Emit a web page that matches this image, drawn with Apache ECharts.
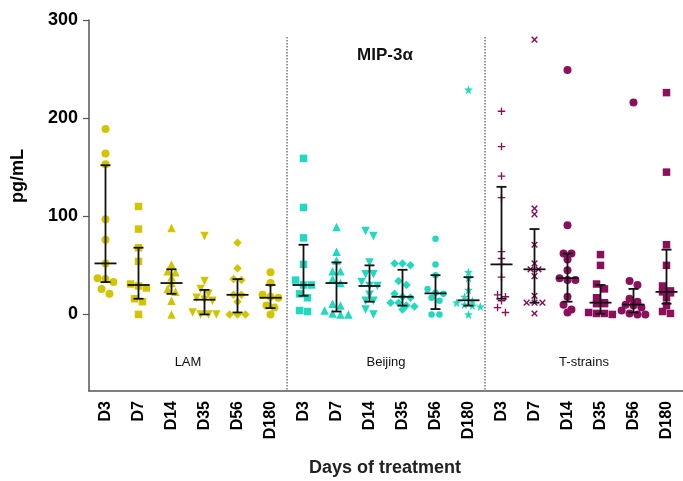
<!DOCTYPE html>
<html>
<head>
<meta charset="utf-8">
<script src="https://cdn.jsdelivr.net/npm/echarts@6/dist/echarts.min.js"></script>
<style>
  html, body { margin: 0; padding: 0; background: #fff; }
  #chart { width: 683px; height: 481px; }
</style>
</head>
<body>
<div id="chart"></div>
<script>
// Days of treatment and strain groups
const days = ['D3', 'D7', 'D14', 'D35', 'D56', 'D180'];
const groups = ['LAM', 'Beijing', 'T-strains'];
const yTicks = [0, 100, 200, 300];

// MIP-3α concentrations (pg/mL), one list per day
const lamValues = [
  [189, 164, 153, 97, 76, 52, 37, 36, 33, 26, 21],
  [110, 87, 68, 54, 31, 29, 27, 16, 13, 0],
  [88, 51, 44, 43, 38, 32, 26, 23, 14, 0],
  [80, 34, 26, 21, 17, 15, 14, 2, 0, 0, 0],
  [73, 47, 36, 35, 20, 20, 13, 0, 0, 0],
  [43, 32, 20, 18, 17, 9, 7, 0]
];
const beijingValues = [
  [159, 109, 78, 51, 35, 30, 30, 21, 17, 4, 3],
  [89, 64, 55, 44, 44, 36, 32, 11, 9, 4, 1, 0, 0],
  [85, 80, 53, 41, 41, 33, 29, 29, 20, 14, 14, 5, 0],
  [52, 52, 50, 34, 30, 21, 18, 17, 12, 12, 9, 8, 5],
  [77, 51, 40, 26, 22, 21, 17, 14, 0, 0],
  [229, 43, 37, 25, 18, 14, 12, 10, 9, 8, 0]
];
const tStrainValues = [
  [207, 171, 141, 119, 64, 57, 51, 38, 20, 18, 14, 7, 2],
  [280, 108, 102, 71, 52, 46, 46, 39, 19, 12, 12, 12, 1],
  [249, 91, 62, 62, 56, 45, 37, 35, 35, 18, 10, 5, 2],
  [61, 50, 31, 26, 17, 12, 11, 11, 2, 1, 1, 0],
  [216, 34, 30, 16, 13, 10, 9, 7, 4, 1, 0, 0],
  [226, 145, 71, 50, 29, 24, 23, 22, 17, 9, 3, 1]
];

// Median with interquartile range per day
const lamMedian = [52, 30, 32, 15, 20, 17];
const lamQ1 = [33, 16, 21, 0, 2, 6.5];
const lamQ3 = [152, 68, 46, 25, 36, 30];
const beijingMedian = [30, 32, 29, 18, 21.5, 14.4];
const beijingQ1 = [19, 3, 13, 9, 5.5, 9];
const beijingQ3 = [71, 53, 50, 45.5, 40, 38];
const tStrainMedian = [51, 46, 37, 12, 10, 23];
const tStrainQ1 = [16, 12, 13, 0.7, 2, 11];
const tStrainQ3 = [130, 87, 62, 30, 26, 66];

// ---- styling ----
const groupColors = ['#d2c500', '#1fd9c0', '#8c0f5b'];
const PLUS = 'path://M-0.9,-5 L0.9,-5 L0.9,-0.9 L5,-0.9 L5,0.9 L0.9,0.9 L0.9,5 L-0.9,5 L-0.9,0.9 L-5,0.9 L-5,-0.9 L-0.9,-0.9 Z';
const STAR = 'path://M0,-10 L2.35,-3.24 L9.51,-3.09 L3.8,1.24 L5.88,8.09 L0,4 L-5.88,8.09 L-3.8,1.24 L-9.51,-3.09 L-2.35,-3.24 Z';
const symbolSets = [
  [['circle', 8, 0], ['rect', 7.5, 0], ['triangle', 8.5, 0], ['triangle', 8.5, 180], ['diamond', 8.5, 0], ['circle', 8, 0]],
  [['rect', 7.5, 0], ['triangle', 8.5, 0], ['triangle', 8.5, 180], ['diamond', 8.5, 0], ['circle', 6.5, 0], [STAR, 9, 0]],
  [[PLUS, 7.5, 0], [PLUS, 8, 45], ['circle', 8, 0], ['rect', 7.5, 0], ['circle', 8, 0], ['rect', 7.5, 0]]
];

const allValues = [lamValues, beijingValues, tStrainValues];
const medians = [lamMedian, beijingMedian, tStrainMedian];
const q1s = [lamQ1, beijingQ1, tStrainQ1];
const q3s = [lamQ3, beijingQ3, tStrainQ3];

// categories: one slot per group/day
const categories = [];
groups.forEach(g => days.forEach(d => categories.push(g + '|' + d)));

// Spread points of similar value side by side (dot-plot layout)
function swarm(values, center) {
  const sorted = values.slice().sort((a, b) => b - a);
  const rows = [];
  sorted.forEach(v => {
    const row = rows[rows.length - 1];
    if (row && row[0] - v <= 5) row.push(v); else rows.push([v]);
  });
  const step = 0.24;
  const pts = [];
  rows.forEach(row => {
    const n = row.length;
    row.forEach((v, i) => pts.push([center + (i - (n - 1) / 2) * step, v]));
  });
  return pts;
}

const series = [];
const barData = [];
allValues.forEach((groupVals, gi) => {
  groupVals.forEach((vals, di) => {
    const idx = gi * days.length + di;
    const sym = symbolSets[gi][di];
    series.push({
      type: 'scatter',
      xAxisIndex: 1,
      data: swarm(vals, idx),
      symbol: sym[0],
      symbolSize: sym[1],
      symbolRotate: sym[2],
      itemStyle: { color: groupColors[gi], opacity: 1 },
      z: 2,
      silent: true
    });
    barData.push([idx, medians[gi][di], q1s[gi][di], q3s[gi][di]]);
  });
});

// Median and interquartile bars
series.push({
  type: 'custom',
  xAxisIndex: 1,
  z: 5,
  silent: true,
  data: barData,
  renderItem: function (params, api) {
    const x = api.value(0);
    const pm = api.coord([x, api.value(1)]);
    const pl = api.coord([x, api.value(2)]);
    const ph = api.coord([x, api.value(3)]);
    const st = { stroke: '#111', lineWidth: 1.8, fill: null };
    return {
      type: 'group',
      children: [
        { type: 'line', shape: { x1: pl[0], y1: pl[1], x2: ph[0], y2: ph[1] }, style: st },
        { type: 'line', shape: { x1: ph[0] - 5, y1: ph[1], x2: ph[0] + 5, y2: ph[1] }, style: st },
        { type: 'line', shape: { x1: pl[0] - 5, y1: pl[1], x2: pl[0] + 5, y2: pl[1] }, style: st },
        { type: 'line', shape: { x1: pm[0] - 11, y1: pm[1], x2: pm[0] + 11, y2: pm[1] }, style: st }
      ]
    };
  }
});

// Group dividers and group names
series.push({
  type: 'custom',
  xAxisIndex: 1,
  z: 1,
  silent: true,
  data: groups.map((g, i) => [i]),
  renderItem: function (params, api) {
    const gi = api.value(0);
    const cs = params.coordSys;
    const start = gi * days.length - 0.5;
    const center = api.coord([gi * days.length + (days.length - 1) / 2, 0])[0];
    const children = [{
      type: 'text',
      style: {
        text: groups[gi], x: center, y: cs.y + cs.height - 29,
        align: 'center', verticalAlign: 'middle',
        font: '13px "Liberation Sans", Arial, sans-serif', fill: '#111'
      }
    }];
    if (gi > 0) {
      const xs = api.coord([start, 0])[0];
      children.push({
        type: 'line',
        shape: { x1: xs, y1: cs.y + 17, x2: xs, y2: cs.y + cs.height },
        style: { stroke: '#333', lineWidth: 1, lineDash: [1.5, 1.5] }
      });
    }
    return { type: 'group', children: children };
  }
});

const chart = echarts.init(document.getElementById('chart'), null, { renderer: 'canvas' });
const axisColor = '#555';
chart.setOption({
  animation: false,
  backgroundColor: '#fff',
  grid: { left: 89, right: 0, top: 20, bottom: 90, containLabel: false },
  xAxis: [
    {
      type: 'category',
      data: categories,
      boundaryGap: true,
      axisLine: { onZero: false, lineStyle: { color: axisColor, width: 1.5 } },
      axisTick: { alignWithLabel: true, length: 7, lineStyle: { color: axisColor, width: 1.2 } },
      axisLabel: {
        interval: 0, rotate: 90, margin: 10,
        formatter: v => v.split('|')[1],
        fontFamily: '"Liberation Sans", Arial, sans-serif',
        fontWeight: 'bold', fontSize: 16, color: '#000'
      },
      splitLine: { show: false }
    },
    {
      type: 'value',
      min: -0.5,
      max: categories.length - 0.5,
      show: false
    }
  ],
  yAxis: {
    type: 'value',
    min: -78,
    max: 300,
    axisLine: { show: true, onZero: false, lineStyle: { color: axisColor, width: 1.5 } },
    axisTick: { show: true, customValues: yTicks, length: 6, lineStyle: { color: axisColor, width: 1.2 } },
    axisLabel: {
      customValues: yTicks, margin: 11,
      fontFamily: '"Liberation Sans", Arial, sans-serif',
      fontWeight: 'bold', fontSize: 18, color: '#000'
    },
    splitLine: { show: false }
  },
  graphic: [
    {
      type: 'text', x: 385, y: 55,
      style: {
        text: 'MIP-3α', align: 'center', verticalAlign: 'middle',
        font: 'bold 17px "Liberation Sans", Arial, sans-serif', fill: '#111'
      }
    },
    {
      type: 'text', x: 18, y: 176, rotation: Math.PI / 2,
      style: {
        text: 'pg/mL', align: 'center', verticalAlign: 'middle',
        font: 'bold 18px "Liberation Sans", Arial, sans-serif', fill: '#000'
      }
    },
    {
      type: 'text', x: 385, y: 468,
      style: {
        text: 'Days of treatment', align: 'center', verticalAlign: 'middle',
        font: 'bold 18px "Liberation Sans", Arial, sans-serif', fill: '#222'
      }
    }
  ],
  series: series
});
</script>
</body>
</html>
